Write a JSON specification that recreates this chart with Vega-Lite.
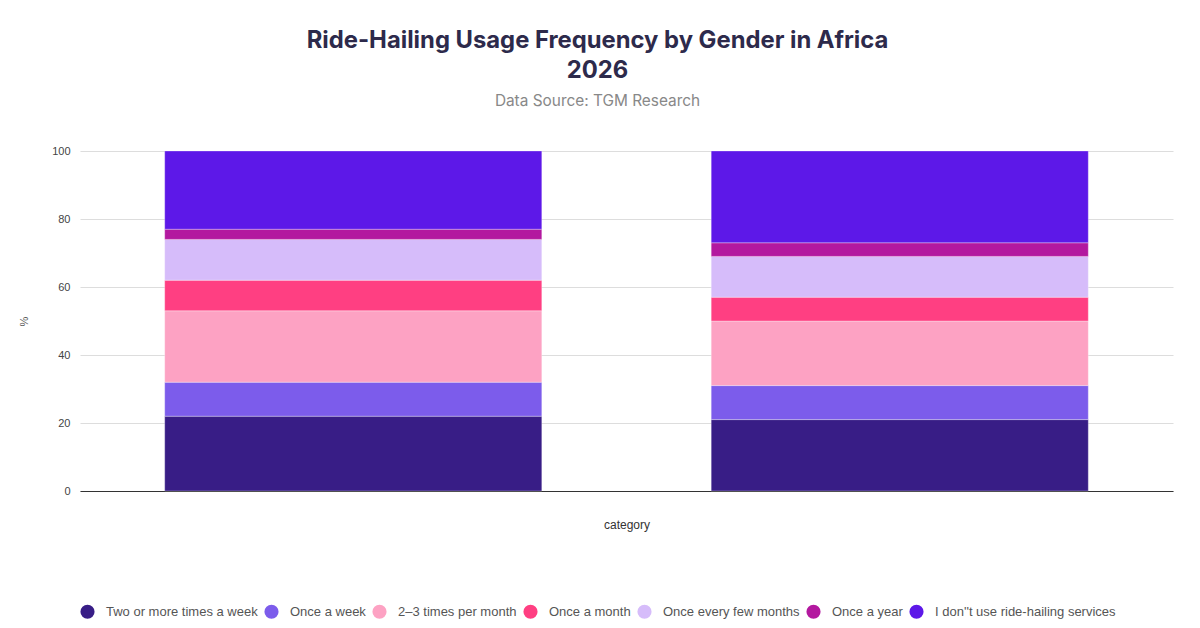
{
  "$schema": "https://vega.github.io/schema/vega-lite/v6.json",
  "width": 1093,
  "height": 340,
  "autosize": "none",
  "padding": {"left": 80, "top": 151, "right": 27, "bottom": 137},
  "background": "white",
  "title": {
    "text": ["Ride-Hailing Usage Frequency by Gender in Africa", "2026"],
    "subtitle": "Data Source: TGM Research",
    "anchor": "middle",
    "frame": "group",
    "dx": -29,
    "offset": 36,
    "font": "Inter",
    "fontSize": 23.8,
    "fontWeight": "bold",
    "color": "#2d2a4b",
    "lineHeight": 30,
    "subtitleFont": "Inter",
    "subtitleFontSize": 15.4,
    "subtitleColor": "#888888",
    "subtitlePadding": 11
  },
  "data": {
    "values": [
      {"gender": "Male", "frequency": "Two or more times a week", "pct": 22},
      {"gender": "Male", "frequency": "Once a week", "pct": 10},
      {"gender": "Male", "frequency": "2–3 times per month", "pct": 21},
      {"gender": "Male", "frequency": "Once a month", "pct": 9},
      {"gender": "Male", "frequency": "Once every few months", "pct": 12},
      {"gender": "Male", "frequency": "Once a year", "pct": 3},
      {"gender": "Male", "frequency": "I don''t use ride-hailing services", "pct": 23},
      {"gender": "Female", "frequency": "Two or more times a week", "pct": 21},
      {"gender": "Female", "frequency": "Once a week", "pct": 10},
      {"gender": "Female", "frequency": "2–3 times per month", "pct": 19},
      {"gender": "Female", "frequency": "Once a month", "pct": 7},
      {"gender": "Female", "frequency": "Once every few months", "pct": 12},
      {"gender": "Female", "frequency": "Once a year", "pct": 4},
      {"gender": "Female", "frequency": "I don''t use ride-hailing services", "pct": 27}
    ]
  },
  "transform": [
    {
      "calculate": "indexof(['Two or more times a week', 'Once a week', '2–3 times per month', 'Once a month', 'Once every few months', 'Once a year'], datum.frequency)",
      "as": "stack_order"
    },
    {"calculate": "datum.stack_order < 0 ? 6 : datum.stack_order", "as": "stack_order"}
  ],
  "mark": {"type": "bar", "stroke": "#ffffff", "strokeWidth": 0.6, "strokeOpacity": 0.5},
  "encoding": {
    "x": {
      "field": "gender",
      "type": "nominal",
      "sort": ["Male", "Female"],
      "scale": {"paddingInner": 0.31, "paddingOuter": 0.155},
      "title": "category",
      "axis": {
        "labels": false,
        "ticks": false,
        "domain": true,
        "domainColor": "#333333",
        "domainWidth": 1.2,
        "titleFont": "Liberation Sans",
        "titleFontSize": 12,
        "titleFontWeight": "normal",
        "titleColor": "#333333",
        "titlePadding": 28
      }
    },
    "y": {
      "field": "pct",
      "type": "quantitative",
      "stack": "zero",
      "scale": {"domain": [0, 100], "nice": false},
      "title": "%",
      "axis": {
        "values": [0, 20, 40, 60, 80, 100],
        "domain": false,
        "ticks": false,
        "gridColor": "#dddddd",
        "labelFont": "Liberation Sans",
        "labelFontSize": 11,
        "labelColor": "#444444",
        "labelPadding": 10,
        "titleFont": "Liberation Sans",
        "titleFontSize": 11,
        "titleFontWeight": "normal",
        "titleColor": "#555555",
        "titlePadding": 22
      }
    },
    "order": {"field": "stack_order", "type": "quantitative"},
    "color": {
      "field": "frequency",
      "type": "nominal",
      "scale": {
        "domain": [
          "Two or more times a week",
          "Once a week",
          "2–3 times per month",
          "Once a month",
          "Once every few months",
          "Once a year",
          "I don''t use ride-hailing services"
        ],
        "range": ["#381d86", "#7c5ceb", "#fda2c3", "#ff3f82", "#d6bcfa", "#b3189f", "#5d18e8"]
      },
      "legend": {
        "orient": "bottom",
        "direction": "horizontal",
        "title": null,
        "symbolType": "circle",
        "symbolSize": 200,
        "symbolStrokeWidth": 0,
        "labelFont": "Liberation Sans",
        "labelFontSize": 13,
        "labelColor": "#555555",
        "labelLimit": 0,
        "labelOffset": 11,
        "columnPadding": 6,
        "offset": 74
      }
    }
  },
  "config": {
    "view": {"stroke": null}
  }
}
